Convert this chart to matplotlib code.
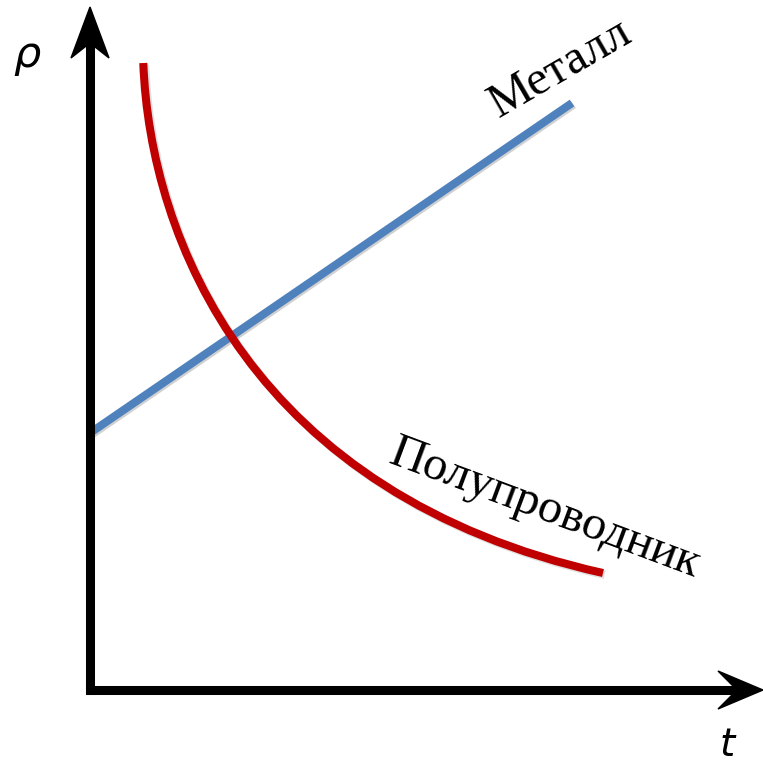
import matplotlib
matplotlib.use("Agg")
import matplotlib.pyplot as plt
import matplotlib.patheffects as pe
from matplotlib.patches import Polygon, PathPatch
from matplotlib.path import Path
from matplotlib.transforms import offset_copy

# --- data (arbitrary units, origin at the corner of the axes) ---
metal_t = [0.0, 48.2]
metal_rho = [25.7, 58.7]

# semiconductor curve: start, two bezier handles, end (as drawn in the source)
semi_t = [5.33, 6.0, 16.3, 51.3]
semi_rho = [62.7, 45.0, 19.5, 11.7]

t_label = "t"
rho_label = "ρ"
metal_label = "Металл"
semi_label = "Полупроводник"

# frame geometry (pixels)
W, H = 763, 764
ox, oy = 90, 690   # origin
unit = 10.0        # pixels per data unit

fig = plt.figure(figsize=(W / 100, H / 100), dpi=100)
ax = fig.add_axes([0, 0, 1, 1])
ax.set_xlim(-ox / unit, (W - ox) / unit)
ax.set_ylim(-(H - oy) / unit, oy / unit)
ax.axis("off")

shadow = [pe.SimpleLineShadow(offset=(1.2, -1.2), alpha=0.18, rho=0.5), pe.Normal()]

# axes with notched arrow heads
t_tip = (W - ox) / unit
r_tip = (oy - 7) / unit
ax.plot([0, 0], [0, r_tip - 4.0], color="black", lw=6.5,
        solid_capstyle="projecting", zorder=3)
ax.plot([0, t_tip - 3.0], [0, 0], color="black", lw=6.5,
        solid_capstyle="projecting", zorder=3)
ax.add_patch(Polygon([(0, r_tip), (-1.9, r_tip - 5.1), (0, r_tip - 3.6),
                      (1.9, r_tip - 5.1)], closed=True, color="black", zorder=4))
ax.add_patch(Polygon([(t_tip, 0), (t_tip - 4.5, 1.9), (t_tip - 2.6, 0),
                      (t_tip - 4.5, -1.9)], closed=True, color="black", zorder=4))

# metal line
ax.plot(metal_t, metal_rho, color="#4f81bd", lw=5.8,
        solid_capstyle="butt", path_effects=shadow, zorder=2)

# semiconductor curve (cubic bezier through the data transform)
semi_path = Path(list(zip(semi_t, semi_rho)),
                 [Path.MOVETO, Path.CURVE4, Path.CURVE4, Path.CURVE4])
shadow_tr = offset_copy(ax.transData, fig=fig, x=1.2, y=-1.2, units="points")
ax.add_patch(PathPatch(semi_path, fill=False, edgecolor="black", alpha=0.12,
                       lw=6.2, capstyle="butt", transform=shadow_tr, zorder=1.9))
ax.add_patch(PathPatch(semi_path, fill=False, edgecolor="#c00000",
                       lw=5.8, capstyle="butt", zorder=2))

# labels
serif = "Liberation Serif"
ax.text(47.6, 61.1, metal_label, fontsize=35, family=serif, rotation=30,
        rotation_mode="anchor", ha="center", va="baseline")
ax.text(45.1, 17.0, semi_label, fontsize=35, family=serif, rotation=-20.5,
        rotation_mode="anchor", ha="center", va="baseline")
ax.text(-6.3, 63.5, rho_label, fontsize=31, style="italic",
        ha="center", va="center")
ax.text(63.7, -5.5, t_label, fontsize=28, style="italic",
        ha="center", va="center")

fig.savefig("out.png", dpi=100)
